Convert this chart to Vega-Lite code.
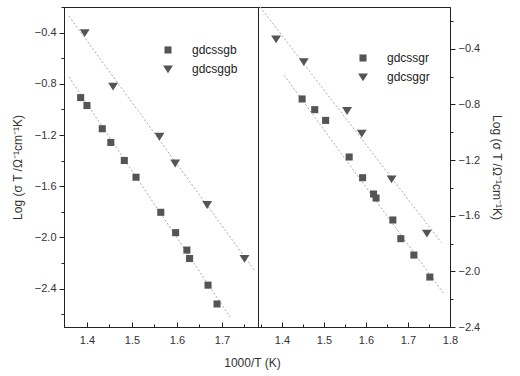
{
  "$schema": "https://vega.github.io/schema/vega-lite/v6.json",
  "background": "white",
  "padding": {"left": 10, "top": 0, "right": 5, "bottom": 5},
  "bounds": "flush",
  "spacing": 0,
  "config": {
    "font": "Liberation Sans",
    "view": {"stroke": "#222", "strokeWidth": 1},
    "axis": {"domainColor": "#222", "tickColor": "#222", "labelColor": "#333", "titleColor": "#333", "labelFontSize": 11, "titleFontSize": 12, "titleFontWeight": "normal", "grid": false, "labelFont": "Liberation Sans", "titleFont": "Liberation Sans", "labelOverlap": false},
    "legend": {"labelFont": "Liberation Sans", "labelFontSize": 12, "labelColor": "#222"}
  },
  "datasets": {
    "pts": [
      {"panel": "L", "series": "gdcssgb", "x": 1.386, "y": -0.908},
      {"panel": "L", "series": "gdcssgb", "x": 1.400, "y": -0.970},
      {"panel": "L", "series": "gdcssgb", "x": 1.434, "y": -1.151},
      {"panel": "L", "series": "gdcssgb", "x": 1.453, "y": -1.258},
      {"panel": "L", "series": "gdcssgb", "x": 1.483, "y": -1.399},
      {"panel": "L", "series": "gdcssgb", "x": 1.509, "y": -1.530},
      {"panel": "L", "series": "gdcssgb", "x": 1.564, "y": -1.804},
      {"panel": "L", "series": "gdcssgb", "x": 1.597, "y": -1.963},
      {"panel": "L", "series": "gdcssgb", "x": 1.622, "y": -2.099},
      {"panel": "L", "series": "gdcssgb", "x": 1.628, "y": -2.165},
      {"panel": "L", "series": "gdcssgb", "x": 1.669, "y": -2.373},
      {"panel": "L", "series": "gdcssgb", "x": 1.689, "y": -2.520},
      {"panel": "L", "series": "gdcsggb", "x": 1.395, "y": -0.401},
      {"panel": "L", "series": "gdcsggb", "x": 1.458, "y": -0.819},
      {"panel": "L", "series": "gdcsggb", "x": 1.561, "y": -1.211},
      {"panel": "L", "series": "gdcsggb", "x": 1.596, "y": -1.420},
      {"panel": "L", "series": "gdcsggb", "x": 1.667, "y": -1.744},
      {"panel": "L", "series": "gdcsggb", "x": 1.750, "y": -2.165},
      {"panel": "R", "series": "gdcssgr", "x": 1.448, "y": -0.761},
      {"panel": "R", "series": "gdcssgr", "x": 1.478, "y": -0.838},
      {"panel": "R", "series": "gdcssgr", "x": 1.504, "y": -0.915},
      {"panel": "R", "series": "gdcssgr", "x": 1.560, "y": -1.178},
      {"panel": "R", "series": "gdcssgr", "x": 1.592, "y": -1.327},
      {"panel": "R", "series": "gdcssgr", "x": 1.618, "y": -1.444},
      {"panel": "R", "series": "gdcssgr", "x": 1.624, "y": -1.473},
      {"panel": "R", "series": "gdcssgr", "x": 1.664, "y": -1.631},
      {"panel": "R", "series": "gdcssgr", "x": 1.683, "y": -1.765},
      {"panel": "R", "series": "gdcssgr", "x": 1.714, "y": -1.883},
      {"panel": "R", "series": "gdcssgr", "x": 1.752, "y": -2.041},
      {"panel": "R", "series": "gdcsggr", "x": 1.386, "y": -0.330},
      {"panel": "R", "series": "gdcsggr", "x": 1.452, "y": -0.493},
      {"panel": "R", "series": "gdcsggr", "x": 1.555, "y": -0.845},
      {"panel": "R", "series": "gdcsggr", "x": 1.590, "y": -1.008},
      {"panel": "R", "series": "gdcsggr", "x": 1.661, "y": -1.336},
      {"panel": "R", "series": "gdcsggr", "x": 1.745, "y": -1.727}
    ],
    "fits": [
      {"panel": "L", "series": "gdcssgb", "x": 1.360, "y": -0.746},
      {"panel": "L", "series": "gdcssgb", "x": 1.718, "y": -2.622},
      {"panel": "L", "series": "gdcsggb", "x": 1.360, "y": -0.271},
      {"panel": "L", "series": "gdcsggb", "x": 1.773, "y": -2.261},
      {"panel": "R", "series": "gdcssgr", "x": 1.405, "y": -0.590},
      {"panel": "R", "series": "gdcssgr", "x": 1.786, "y": -2.163},
      {"panel": "R", "series": "gdcsggr", "x": 1.348, "y": -0.100},
      {"panel": "R", "series": "gdcsggr", "x": 1.779, "y": -1.791}
    ]
  },
  "resolve": {"scale": {"shape": "independent", "x": "independent", "y": "independent"}, "legend": {"shape": "independent"}},
  "hconcat": [
    {
      "width": 194,
      "height": 320,
      "encoding": {
        "x": {"field": "x", "type": "quantitative", "scale": {"domain": [1.349, 1.78], "nice": false, "zero": false},
          "axis": {"values": [1.35, 1.4, 1.45, 1.5, 1.55, 1.6, 1.65, 1.7, 1.75],
            "labelExpr": "abs(datum.value*10 - round(datum.value*10)) < 0.01 ? format(datum.value, '.1f') : ''",
            "tickSize": {"condition": {"test": "abs(datum.value*10 - round(datum.value*10)) < 0.01", "value": -5}, "value": -3},
            "labelPadding": 12, "title": "1000/T (K)", "titleX": 188, "titlePadding": 10, "labelFlush": false}},
        "y": {"field": "y", "type": "quantitative", "scale": {"domain": [-2.7, -0.2], "nice": false, "zero": false},
          "axis": {"values": [-0.2, -0.4, -0.6, -0.8, -1.0, -1.2, -1.4, -1.6, -1.8, -2.0, -2.2, -2.4, -2.6],
            "labelExpr": "abs(datum.value/0.4 - round(datum.value/0.4)) < 0.01 ? format(datum.value, '.1f') : ''",
            "tickSize": {"condition": {"test": "abs(datum.value/0.4 - round(datum.value/0.4)) < 0.01", "value": 5}, "value": 3},
            "labelPadding": 3, "title": "Log (σ T /Ω⁻¹cm⁻¹K)", "titlePadding": 10}}
      },
      "layer": [
        {
          "data": {"name": "fits"},
          "transform": [{"filter": "datum.panel == 'L'"}],
          "mark": {"type": "line", "stroke": "#aaa", "strokeWidth": 1, "strokeDash": [2, 2]},
          "encoding": {"detail": {"field": "series"}}
        },
        {
          "data": {"name": "pts"},
          "transform": [{"filter": "datum.panel == 'L'"}],
          "mark": {"type": "point", "filled": true, "opacity": 1, "color": "#555", "size": 50},
          "encoding": {
            "shape": {"field": "series", "type": "nominal", "scale": {"domain": ["gdcssgb", "gdcsggb"], "range": ["square", "M-1.4,-1L1.4,-1L0,1.2Z"]},
              "legend": {"orient": "none", "legendX": 98, "legendY": 37, "title": null, "padding": 0, "rowPadding": 5, "labelOffset": 18, "symbolSize": 50, "symbolFillColor": "#555", "symbolStrokeColor": "#555"}}
          }
        }
      ]
    },
    {
      "width": 192,
      "height": 320,
      "encoding": {
        "x": {"field": "x", "type": "quantitative", "scale": {"domain": [1.343, 1.8], "nice": false, "zero": false},
          "axis": {"values": [1.35, 1.4, 1.45, 1.5, 1.55, 1.6, 1.65, 1.7, 1.75, 1.8],
            "labelExpr": "abs(datum.value*10 - round(datum.value*10)) < 0.01 ? format(datum.value, '.1f') : ''",
            "tickSize": {"condition": {"test": "abs(datum.value*10 - round(datum.value*10)) < 0.01", "value": -5}, "value": -3},
            "labelPadding": 12, "title": null, "labelFlush": false}},
        "y": {"field": "y", "type": "quantitative", "scale": {"domain": [-2.4, -0.1], "nice": false, "zero": false},
          "axis": {"orient": "right", "values": [-0.2, -0.4, -0.6, -0.8, -1.0, -1.2, -1.4, -1.6, -1.8, -2.0, -2.2, -2.4],
            "labelExpr": "abs(datum.value/0.4 - round(datum.value/0.4)) < 0.01 ? format(datum.value, '.1f') : ''",
            "tickSize": {"condition": {"test": "abs(datum.value/0.4 - round(datum.value/0.4)) < 0.01", "value": 5}, "value": 3},
            "labelPadding": 3, "title": "Log (σ T /Ω⁻¹cm⁻¹K)", "titleAngle": 90, "titlePadding": 10}}
      },
      "layer": [
        {
          "data": {"name": "fits"},
          "transform": [{"filter": "datum.panel == 'R'"}],
          "mark": {"type": "line", "stroke": "#aaa", "strokeWidth": 1, "strokeDash": [2, 2]},
          "encoding": {"detail": {"field": "series"}}
        },
        {
          "data": {"name": "pts"},
          "transform": [{"filter": "datum.panel == 'R'"}],
          "mark": {"type": "point", "filled": true, "opacity": 1, "color": "#555", "size": 50},
          "encoding": {
            "shape": {"field": "series", "type": "nominal", "scale": {"domain": ["gdcssgr", "gdcsggr"], "range": ["square", "M-1.4,-1L1.4,-1L0,1.2Z"]},
              "legend": {"orient": "none", "legendX": 99, "legendY": 45, "title": null, "padding": 0, "rowPadding": 5, "labelOffset": 18, "symbolSize": 50, "symbolFillColor": "#555", "symbolStrokeColor": "#555"}}
          }
        }
      ]
    }
  ]
}
